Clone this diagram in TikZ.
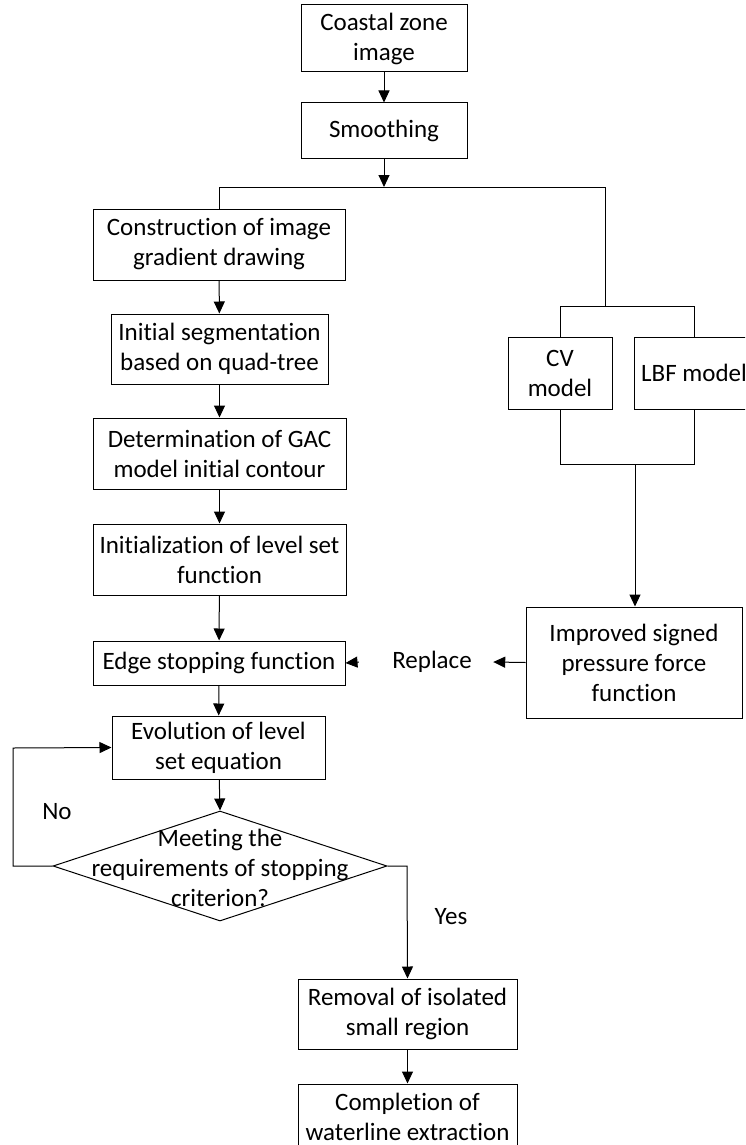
\documentclass[tikz,border=0pt]{standalone}
\usepackage{fontspec}
\setmainfont{Carlito}[Ligatures=NoCommon]
\usetikzlibrary{arrows.meta,shapes.geometric}
\begin{document}
\begin{tikzpicture}[x=1pt,y=-1pt,
  font=\fontsize{25}{30}\selectfont,
  line width=1pt,
  box/.style={draw, rectangle, align=center, inner sep=0pt},
  lbl/.style={inner sep=0pt, align=center},
  arr/.style={-{Triangle[length=12pt,width=11pt]}}]
\path[use as bounding box] (0,0) rectangle (745,1145);
\clip (0,0) rectangle (745,1145);
% left column
\node[box, minimum width=166, minimum height=67] (coastal) at (384,38.5) {Coastal zone\\image};
\node[box, minimum width=166, minimum height=55] (smooth) at (384,130.5) {Smoothing};
\coordinate (split) at (384,187);
\coordinate (splitL) at (219,187);
\coordinate (splitR) at (605,187);
\node[box, minimum width=252, minimum height=71] (construct) at (219,244.5) {Construction of image\\gradient drawing};
\node[box, minimum width=217, minimum height=70] (initseg) at (219.5,349) {Initial segmentation\\based on quad-tree};
\node[box, minimum width=253, minimum height=71] (determ) at (219.5,453.5) {Determination of GAC\\model initial contour};
\node[box, minimum width=253, minimum height=71] (initls) at (219.5,559.5) {Initialization of level set\\function};
\node[box, minimum width=252, minimum height=44] (edge) at (219,663) {Edge stopping function};
\node[box, minimum width=213, minimum height=63] (evol) at (218.5,747.5) {Evolution of level\\set equation};
\node[draw, diamond, minimum width=334, minimum height=110, inner sep=0pt] (dia) at (220,866) {};
\node[lbl] (diatext) at (220,868) {Meeting the\\requirements of stopping\\criterion?};
\node[box, minimum width=219, minimum height=70] (removal) at (407.5,1014) {Removal of isolated\\small region};
\node[box, minimum width=219, minimum height=66] (complete) at (407.5,1117) {Completion of\\waterline extraction};
% right column
\coordinate (branch) at (605,306);
\coordinate (branchL) at (560,306);
\coordinate (branchR) at (694,306);
\node[box, minimum width=104, minimum height=72] (cv) at (560,373) {CV\\model};
\node[box, minimum width=120, minimum height=72] (lbf) at (694,373) {LBF model};
\coordinate (joinL) at (560,464);
\coordinate (joinR) at (694,464);
\coordinate (join) at (635,464);
\node[box, minimum width=216, minimum height=111] (improved) at (634,662.5) {Improved signed\\pressure force\\function};
\node[lbl] (replace) at (432,662) {Replace};
\node[lbl] (no) at (57,812) {No};
\node[lbl] (yes) at (451,917) {Yes};
\coordinate (loopB) at (13,866);
\coordinate (loopT) at (13,748);
\coordinate (yesC) at (407,866);
% connectors
\draw[arr] (coastal) -- (smooth);
\draw[arr] (smooth) -- (split);
\draw (splitL) -- (splitR);
\draw (splitL) -- (construct.north);
\draw[arr] (construct) -- (initseg);
\draw[arr] (initseg) -- (determ);
\draw[arr] (determ) -- (initls);
\draw[arr] (initls) -- (edge);
\draw[arr] (edge) -- (evol);
\draw[arr] (evol) -- (dia.north);
\draw[arr] (dia.west) -- (loopB) -- (loopT) -- (evol.west);
\draw[arr] (dia.east) -- (yesC) -- (removal.north);
\draw[arr] (removal) -- (complete);
\draw (splitR) -- (branch);
\draw (branchL) -- (branchR);
\draw (branchL) -- (cv.north);
\draw (branchR) -- (lbf.north);
\draw (cv.south) -- (joinL) -- (joinR) -- (lbf.south);
\draw[arr] (join) -- (join |- improved.north);
\draw[arr] (improved.west) -- ([xshift=21pt]replace.east);
\draw[arr] ([xshift=-33pt]replace.west) -- (edge.east);
\end{tikzpicture}
\end{document}
